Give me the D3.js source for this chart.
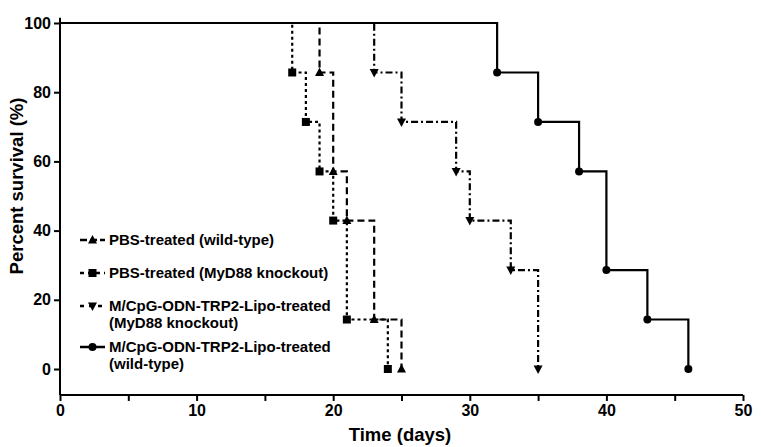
<!DOCTYPE html>
<html><head><meta charset="utf-8">
<script src="https://cdn.jsdelivr.net/npm/d3@7"></script>
<style>body{margin:0;background:#fff}svg{display:block}</style>
</head><body>
<svg id="c" width="761" height="447"></svg>
<script>
const seriesNames = [
  ["PBS-treated (wild-type)"],
  ["PBS-treated (MyD88 knockout)"],
  ["M/CpG-ODN-TRP2-Lipo-treated", "(MyD88 knockout)"],
  ["M/CpG-ODN-TRP2-Lipo-treated", "(wild-type)"]
];
const pbsWtDays = [0, 19, 20, 21, 23, 25];
const pbsWtSurv = [100, 85.7, 57.1, 42.9, 14.3, 0];
const pbsKoDays = [0, 17, 18, 19, 20, 21, 24];
const pbsKoSurv = [100, 85.7, 71.4, 57.1, 42.9, 14.3, 0];
const cpgKoDays = [0, 23, 25, 29, 30, 33, 35];
const cpgKoSurv = [100, 85.7, 71.4, 57.1, 42.9, 28.6, 0];
const cpgWtDays = [0, 32, 35, 38, 40, 43, 46];
const cpgWtSurv = [100, 85.7, 71.4, 57.1, 28.6, 14.3, 0];
const xTicks = [0, 10, 20, 30, 40, 50];
const yTicks = [0, 20, 40, 60, 80, 100];

const series = [
  {days: pbsWtDays, surv: pbsWtSurv, dash: "7,4", sym: "tri"},
  {days: pbsKoDays, surv: pbsKoSurv, dash: "3,3", sym: "sq"},
  {days: cpgKoDays, surv: cpgKoSurv, dash: "7,3,2,3", sym: "itri"},
  {days: cpgWtDays, surv: cpgWtSurv, dash: null, sym: "circ"}
];

const svg = d3.select("#c");
const x = d3.scaleLinear().domain([0, 50]).range([60, 743]);
const y = d3.scaleLinear().domain([0, 100]).range([369, 23]);
const font = "'Liberation Sans', Arial, sans-serif";

// axes
const xAxis = svg.append("g").attr("transform", `translate(0,${y(-7.5)})`)
  .call(d3.axisBottom(x).tickValues(d3.range(0, 51, 5)).tickSize(6).tickFormat(d => xTicks.includes(d) ? d : ""));
xAxis.select(".domain").attr("d", `M${x(0)},0H${x(50)}`).attr("stroke-width", 2);
xAxis.selectAll(".tick line").attr("stroke-width", 2);
xAxis.selectAll(".tick text").attr("font-family", font).attr("font-weight", "bold").attr("font-size", 16).attr("y", 8).attr("dy", "0.8em");

const yAxis = svg.append("g").attr("transform", `translate(${x(0)},0)`)
  .call(d3.axisLeft(y).tickValues(yTicks).tickSize(6));
yAxis.select(".domain").attr("d", `M0,${y(101.5)}V${y(-7.5)}`).attr("stroke-width", 2);
yAxis.selectAll(".tick line").attr("stroke-width", 2);
yAxis.selectAll(".tick text").attr("font-family", font).attr("font-weight", "bold").attr("font-size", 16).attr("x", -9);

svg.append("text").attr("x", 400).attr("y", 441).attr("text-anchor", "middle")
  .attr("font-family", font).attr("font-weight", "bold").attr("font-size", 18.5).text("Time (days)");
svg.append("text").attr("transform", `translate(23,186) rotate(-90)`).attr("text-anchor", "middle")
  .attr("font-family", font).attr("font-weight", "bold").attr("font-size", 18.5).text("Percent survival (%)");

function symbol(g, type, cx, cy) {
  if (type === "circ") g.append("circle").attr("cx", cx).attr("cy", cy).attr("r", 4).attr("fill", "#000");
  else if (type === "sq") g.append("rect").attr("x", cx - 4).attr("y", cy - 4).attr("width", 8).attr("height", 8).attr("fill", "#000");
  else if (type === "tri") g.append("path").attr("d", `M${cx},${cy-5}L${cx+4.5},${cy+3.5}L${cx-4.5},${cy+3.5}Z`).attr("fill", "#000");
  else if (type === "itri") g.append("path").attr("d", `M${cx},${cy+5}L${cx+4.5},${cy-3.5}L${cx-4.5},${cy-3.5}Z`).attr("fill", "#000");
}

const line = d3.line().x(d => x(d[0])).y(d => y(d[1])).curve(d3.curveStepAfter);
series.forEach(s => {
  const pts = s.days.map((d, j) => [d, s.surv[j]]);
  const g = svg.append("g");
  g.append("path").attr("d", line(pts)).attr("fill", "none").attr("stroke", "#000")
    .attr("stroke-width", 2.2).attr("stroke-dasharray", s.dash);
  pts.slice(1).forEach(p => symbol(g, s.sym, x(p[0]), y(p[1])));
});
// top 100% segment stays solid
svg.append("path").attr("d", line([[0, 100], [32, 100]])).attr("stroke", "#000").attr("stroke-width", 2.2).attr("fill", "none");

// legend
const legY = [240, 273, 306, 347];
series.forEach((s, i) => {
  const g = svg.append("g");
  const ly = legY[i];
  g.append("line").attr("x1", 80).attr("x2", 105).attr("y1", ly).attr("y2", ly)
    .attr("stroke", "#000").attr("stroke-width", 2.5).attr("stroke-dasharray", s.dash ? (s.dash === "7,4" ? "7,3" : s.dash === "3,3" ? "4,4" : "4,5") : null);
  symbol(g, s.sym, 92.5, ly);
  seriesNames[i].forEach((t, k) => {
    g.append("text").attr("x", 109).attr("y", ly + 5 + k * 17).attr("font-family", font)
      .attr("font-weight", "bold").attr("font-size", 15).text(t);
  });
});
</script>
</body></html>
